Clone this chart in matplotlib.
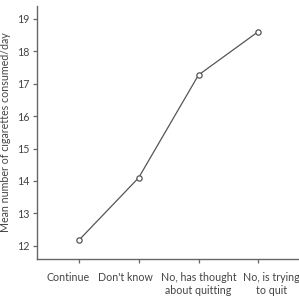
import matplotlib
matplotlib.use("Agg")
import matplotlib.pyplot as plt

categories = ["Continue", "Don't know", "No, has thought\nabout quitting", "No, is trying\nto quit"]
values = [12.17, 14.1, 17.27, 18.61]
yticks = [12, 13, 14, 15, 16, 17, 18, 19]

grey = "#666666"
text_grey = "#444444"

plt.rcParams['font.family'] = ['Lato', 'DejaVu Sans']

fig = plt.figure(figsize=(2.99, 3.01), dpi=100)
ax = fig.add_axes([37 / 299, 1 - 258.7 / 301, 1 - 37 / 299, (258.7 - 6) / 301])

x = list(range(len(categories)))
ax.plot(x, values, color="#555555", linewidth=0.9, marker="o", markersize=3.8,
        markerfacecolor="white", markeredgecolor="#555555", markeredgewidth=0.9,
        clip_on=False, zorder=3)

ax.set_xlim(-0.7, 3.68)
ax.set_ylim(11.6, 19.4)
ax.set_xticks(x)
ax.set_xticklabels([])
# labels in the original are nudged sideways so they don't collide (points)
shifts = [-7.5, -9.5, 0, 9.5]
for xi, lab, dx in zip(x, categories, shifts):
    ax.annotate(lab, xy=(xi, 0), xycoords=("data", "axes fraction"),
                xytext=(dx, -9.5), textcoords="offset points",
                ha="center", va="top", fontsize=7.7, color=text_grey,
                linespacing=1.2, annotation_clip=False)
ax.set_yticks(yticks)
ax.set_yticklabels([str(t) for t in yticks], fontsize=7.7, color=text_grey)
ax.set_ylabel("Mean number of cigarettes consumed/day", fontsize=7.7, color=text_grey, labelpad=4)

for side in ["top", "right"]:
    ax.spines[side].set_visible(False)
for side in ["left", "bottom"]:
    ax.spines[side].set_color(grey)
    ax.spines[side].set_linewidth(1.0)
ax.tick_params(axis="both", color=grey, length=3, width=0.9, pad=2.5)

fig.savefig("out.png", dpi=100)
